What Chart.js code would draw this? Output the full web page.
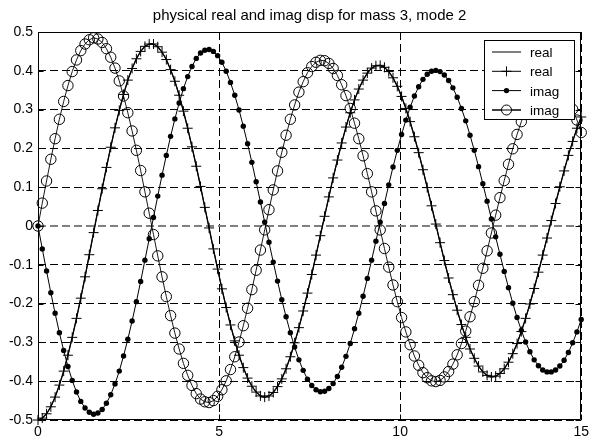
<!DOCTYPE html>
<html>
<head>
<meta charset="utf-8">
<script src="https://cdn.jsdelivr.net/npm/chart.js@4"></script>
<style>
html,body{margin:0;padding:0;background:#fff;}
#wrap{width:593px;height:445px;}
</style>
</head>
<body>
<div id="wrap"><canvas id="c" width="593" height="445"></canvas></div>
<script>
const titleText = "physical real and imag disp for mass 3, mode 2";
const seriesNames = ["real", "real", "imag", "imag"];
const xTicks = [0, 5, 10, 15];
const xTickLabels = ["0", "5", "10", "15"];
const yTicks = [-0.5, -0.4, -0.3, -0.2, -0.1, 0, 0.1, 0.2, 0.3, 0.4, 0.5];
const yTickLabels = ["-0.5", "-0.4", "-0.3", "-0.2", "-0.1", "0", "0.1", "0.2", "0.3", "0.4", "0.5"];

const t = [0,0.1181,0.2362,0.3543,0.4724,0.5906,0.7087,0.8268,0.9449,1.0630,
1.1811,1.2992,1.4173,1.5354,1.6535,1.7717,1.8898,2.0079,2.1260,2.2441,
2.3622,2.4803,2.5984,2.7165,2.8346,2.9528,3.0709,3.1890,3.3071,3.4252,
3.5433,3.6614,3.7795,3.8976,4.0157,4.1339,4.2520,4.3701,4.4882,4.6063,
4.7244,4.8425,4.9606,5.0787,5.1969,5.3150,5.4331,5.5512,5.6693,5.7874,
5.9055,6.0236,6.1417,6.2598,6.3780,6.4961,6.6142,6.7323,6.8504,6.9685,
7.0866,7.2047,7.3228,7.4409,7.5591,7.6772,7.7953,7.9134,8.0315,8.1496,
8.2677,8.3858,8.5039,8.6220,8.7402,8.8583,8.9764,9.0945,9.2126,9.3307,
9.4488,9.5669,9.6850,9.8031,9.9213,10.0394,10.1575,10.2756,10.3937,10.5118,
10.6299,10.7480,10.8661,10.9843,11.1024,11.2205,11.3386,11.4567,11.5748,11.6929,
11.8110,11.9291,12.0472,12.1654,12.2835,12.4016,12.5197,12.6378,12.7559,12.8740,
12.9921,13.1102,13.2283,13.3465,13.4646,13.5827,13.7008,13.8189,13.9370,14.0551,
14.1732,14.2913,14.4094,14.5276,14.6457,14.7638,14.8819,15.0000];

const realDisp = [-0.500,-0.495,-0.484,-0.466,-0.441,-0.410,-0.374,-0.333,-0.287,-0.238,
-0.186,-0.131,-0.074,-0.017,0.040,0.096,0.151,0.203,0.253,0.298,
0.339,0.376,0.406,0.431,0.450,0.463,0.469,0.469,0.462,0.448,
0.429,0.403,0.373,0.337,0.296,0.252,0.204,0.154,0.102,0.048,
-0.005,-0.059,-0.111,-0.162,-0.210,-0.255,-0.296,-0.333,-0.365,-0.392,
-0.413,-0.428,-0.438,-0.441,-0.438,-0.429,-0.414,-0.394,-0.368,-0.337,
-0.301,-0.262,-0.219,-0.173,-0.125,-0.075,-0.025,0.025,0.075,0.124,
0.170,0.214,0.255,0.292,0.325,0.353,0.376,0.394,0.407,0.413,
0.414,0.409,0.398,0.382,0.360,0.334,0.303,0.269,0.230,0.189,
0.145,0.099,0.052,0.005,-0.043,-0.089,-0.134,-0.177,-0.217,-0.254,
-0.287,-0.317,-0.341,-0.361,-0.376,-0.385,-0.389,-0.387,-0.380,-0.368,
-0.351,-0.329,-0.303,-0.272,-0.238,-0.201,-0.161,-0.119,-0.075,-0.031,
0.014,0.058,0.101,0.142,0.182,0.218,0.252,0.281];

const imagDots = [0.000,-0.059,-0.116,-0.172,-0.225,-0.275,-0.321,-0.362,-0.398,-0.428,
-0.452,-0.469,-0.480,-0.485,-0.482,-0.473,-0.457,-0.435,-0.407,-0.374,
-0.335,-0.292,-0.245,-0.195,-0.143,-0.088,-0.033,0.022,0.077,0.131,
0.182,0.231,0.276,0.317,0.354,0.385,0.411,0.432,0.446,0.453,
0.455,0.450,0.439,0.422,0.399,0.370,0.337,0.299,0.257,0.212,
0.164,0.114,0.062,0.010,-0.042,-0.093,-0.142,-0.190,-0.234,-0.275,
-0.312,-0.345,-0.372,-0.395,-0.411,-0.422,-0.427,-0.426,-0.419,-0.406,
-0.388,-0.364,-0.336,-0.303,-0.265,-0.225,-0.181,-0.135,-0.088,-0.039,
0.010,0.058,0.106,0.152,0.195,0.236,0.273,0.306,0.335,0.359,
0.378,0.391,0.399,0.401,0.398,0.389,0.375,0.356,0.332,0.303,
0.271,0.234,0.195,0.153,0.109,0.064,0.018,-0.028,-0.073,-0.117,
-0.159,-0.199,-0.236,-0.269,-0.299,-0.324,-0.345,-0.360,-0.371,-0.376,
-0.376,-0.371,-0.361,-0.346,-0.326,-0.301,-0.273,-0.241];

const imagCircles = [0.000,0.059,0.116,0.172,0.225,0.275,0.321,0.362,0.398,0.428,
0.452,0.469,0.480,0.485,0.482,0.473,0.457,0.435,0.407,0.374,
0.335,0.292,0.245,0.195,0.143,0.088,0.033,-0.022,-0.077,-0.131,
-0.182,-0.231,-0.276,-0.317,-0.354,-0.385,-0.411,-0.432,-0.446,-0.453,
-0.455,-0.450,-0.439,-0.422,-0.399,-0.370,-0.337,-0.299,-0.257,-0.212,
-0.164,-0.114,-0.062,-0.010,0.042,0.093,0.142,0.190,0.234,0.275,
0.312,0.345,0.372,0.395,0.411,0.422,0.427,0.426,0.419,0.406,
0.388,0.364,0.336,0.303,0.265,0.225,0.181,0.135,0.088,0.039,
-0.010,-0.058,-0.106,-0.152,-0.195,-0.236,-0.273,-0.306,-0.335,-0.359,
-0.378,-0.391,-0.399,-0.401,-0.398,-0.389,-0.375,-0.356,-0.332,-0.303,
-0.271,-0.234,-0.195,-0.153,-0.109,-0.064,-0.018,0.028,0.073,0.117,
0.159,0.199,0.236,0.269,0.299,0.324,0.345,0.360,0.371,0.376,
0.376,0.371,0.361,0.346,0.326,0.301,0.273,0.241];

function pts(ys){ return ys.map((y,i)=>({x:t[i], y:y})); }

const FONT = '"Liberation Sans", Arial, Helvetica, sans-serif';

const frame = {
  id: 'frame',
  beforeDatasetsDraw(chart){
    const ctx = chart.ctx, a = chart.chartArea;
    const xs = chart.scales.x, ys = chart.scales.y;
    ctx.save();
    ctx.strokeStyle = '#000';
    ctx.lineWidth = 1;
    ctx.setLineDash([]);
    const L = Math.round(a.left)+0.5, R = Math.round(a.right)-0.5, T = Math.round(a.top)+0.5, B = Math.round(a.bottom)-0.5;
    ctx.beginPath();
    ctx.rect(L, T, R-L, B-T);
    ctx.stroke();
    ctx.beginPath();
    yTicks.forEach(v=>{
      const p = Math.round(ys.getPixelForValue(v))+0.5;
      ctx.moveTo(L, p); ctx.lineTo(L+5, p);
      ctx.moveTo(R, p); ctx.lineTo(R-5, p);
    });
    xTicks.forEach(v=>{
      const p = Math.round(xs.getPixelForValue(v))+0.5;
      ctx.moveTo(p, B); ctx.lineTo(p, B-5);
      ctx.moveTo(p, T); ctx.lineTo(p, T+5);
    });
    ctx.stroke();
    ctx.restore();
  },
  afterDraw(chart){
    const ctx = chart.ctx, a = chart.chartArea;
    ctx.save();
    ctx.strokeStyle = '#000';
    ctx.lineWidth = 1;
    ctx.setLineDash([]);
    // title
    ctx.fillStyle = '#000';
    ctx.font = '15px ' + FONT;
    ctx.textAlign = 'center';
    ctx.textBaseline = 'alphabetic';
    ctx.fillText(titleText, (a.left + a.right)/2, 20);

    // legend
    const bx = 484.5, by = 40.5, bw = 90, bh = 79;
    ctx.fillStyle = '#fff';
    ctx.fillRect(bx, by, bw, bh);
    ctx.strokeRect(bx, by, bw, bh);
    const rows = [52, 71.3, 90.6, 110];
    const x1 = 492, x2 = 521, xm = 506.5;
    ctx.font = '13.5px ' + FONT;
    rows.forEach((ry, i)=>{
      ctx.beginPath();
      ctx.moveTo(x1, ry); ctx.lineTo(x2, ry);
      ctx.stroke();
      if (i === 1){
        ctx.beginPath();
        ctx.moveTo(xm-5, ry); ctx.lineTo(xm+5, ry);
        ctx.moveTo(xm, ry-5); ctx.lineTo(xm, ry+5);
        ctx.stroke();
      } else if (i === 2){
        ctx.beginPath(); ctx.fillStyle = '#000';
        ctx.arc(xm, ry, 2.7, 0, Math.PI*2); ctx.fill();
      } else if (i === 3){
        ctx.beginPath();
        ctx.arc(xm, ry, 5, 0, Math.PI*2);
        ctx.fillStyle = '#fff'; ctx.fill();
        ctx.stroke();
        ctx.beginPath();
        ctx.moveTo(x1, ry); ctx.lineTo(x2, ry); ctx.stroke();
      }
      ctx.fillStyle = '#000';
      ctx.textAlign = 'left';
      ctx.textBaseline = 'alphabetic';
      ctx.fillText(seriesNames[i], 530, ry + 5);
    });
    ctx.restore();
  }
};

new Chart(document.getElementById('c'), {
  type: 'scatter',
  data: {
    datasets: [
      { label: seriesNames[0], data: pts(realDisp), showLine: true, clip: false, borderColor: '#000', borderWidth: 1.3, pointRadius: 0, fill: false },
      { label: seriesNames[1], data: pts(realDisp), showLine: true, clip: false, borderColor: '#000', borderWidth: 1, pointStyle: 'cross', pointRadius: 5, pointBorderColor: '#000', pointBorderWidth: 1, fill: false },
      { label: seriesNames[2], data: pts(imagDots), showLine: true, clip: false, borderColor: '#000', borderWidth: 1, pointStyle: 'circle', pointRadius: 2.7, pointBackgroundColor: '#000', pointBorderColor: '#000', pointBorderWidth: 0, fill: false },
      { label: seriesNames[3], data: pts(imagCircles), showLine: true, clip: false, borderColor: '#000', borderWidth: 0.9, pointStyle: 'circle', pointRadius: 5.2, pointBackgroundColor: 'rgba(0,0,0,0)', pointBorderColor: '#000', pointBorderWidth: 1, fill: false }
    ]
  },
  options: {
    responsive: false,
    animation: false,
    events: [],
    layout: { padding: { top: 32, right: 9, left: 0, bottom: 0 } },
    plugins: { legend: { display: false }, title: { display: false }, tooltip: { enabled: false } },
    scales: {
      x: {
        type: 'linear', min: 0, max: 15,
        afterBuildTicks: s => { s.ticks = xTicks.map(v=>({value:v})); },
        afterFit: s => { s.height = 25; },
        ticks: { color: '#000', font: { size: 14, family: FONT }, padding: 4, maxRotation: 0,
          callback: (v) => { const i = xTicks.indexOf(v); return i >= 0 ? xTickLabels[i] : ''; } },
        grid: { color: '#000', lineWidth: 1, drawTicks: false },
        border: { display: false, dash: [8, 4] }
      },
      y: {
        type: 'linear', min: -0.5, max: 0.5,
        afterBuildTicks: s => { s.ticks = yTicks.map(v=>({value:v})); },
        afterFit: s => { s.width = 38; },
        ticks: { color: '#000', font: { size: 14, family: FONT }, padding: 5,
          callback: (v) => { const i = yTicks.indexOf(v); return i >= 0 ? yTickLabels[i] : ''; } },
        grid: { color: c => (c.tick && c.tick.value === 0) ? '#808080' : '#000',
                lineWidth: c => (c.tick && c.tick.value === 0) ? 2 : 1, drawTicks: false },
        border: { display: false, dash: [8, 4] }
      }
    }
  },
  plugins: [frame]
});
</script>
</body>
</html>
